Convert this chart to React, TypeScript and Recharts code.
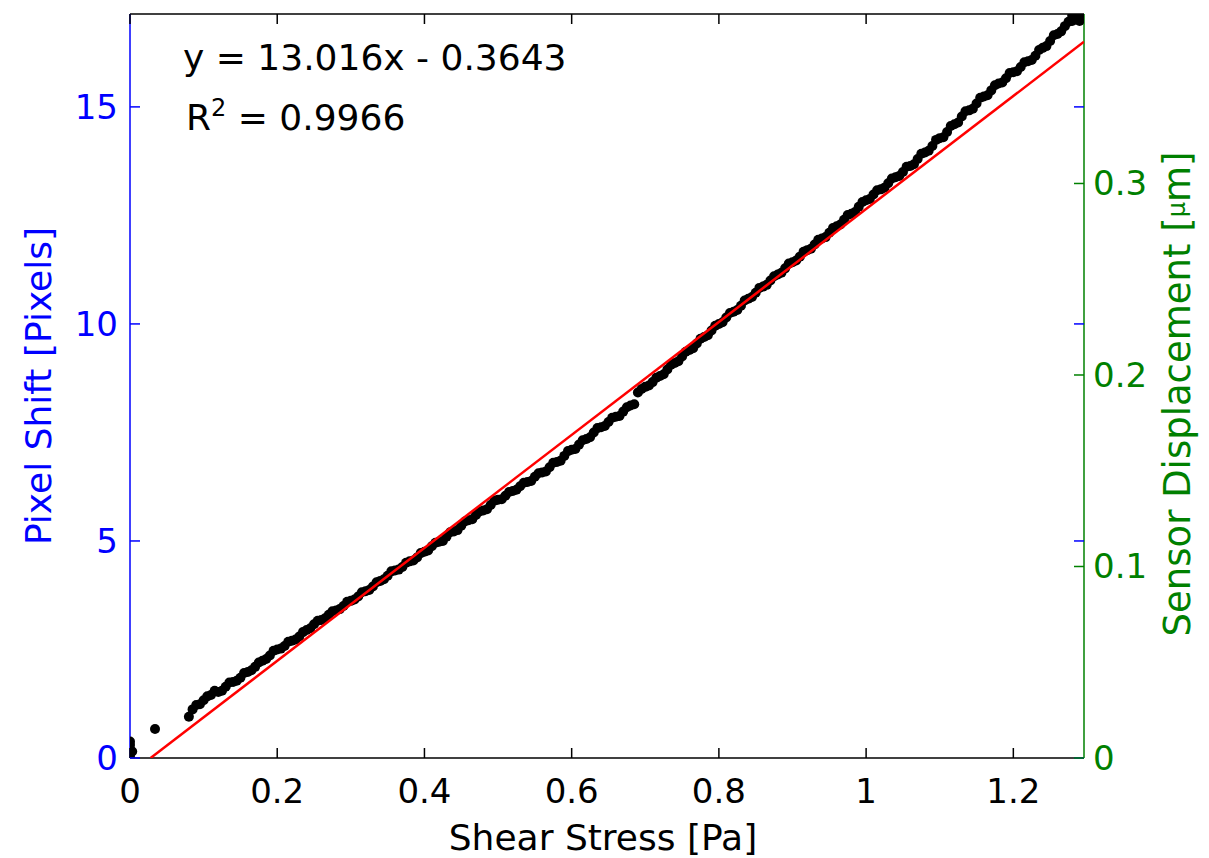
import {
	ComposedChart,
	Scatter,
	XAxis,
	YAxis,
	ReferenceLine,
	Label,
} from 'recharts'

// shear stress [Pa] vs pixel shift [px]
const STRESS = [
	0, 0, 0, 0, 0, 0.003, 0.034,
	0.08, 0.09, 0.1, 0.11, 0.12, 0.13, 0.14, 0.15, 0.16, 0.17, 0.18, 0.19,
	0.2, 0.21, 0.22, 0.23, 0.24, 0.25, 0.26, 0.27, 0.28, 0.29,
	0.3, 0.31, 0.32, 0.33, 0.34, 0.35, 0.36, 0.37, 0.38, 0.39,
	0.4, 0.41, 0.42, 0.43, 0.44, 0.45, 0.46, 0.47, 0.48, 0.49,
	0.5, 0.51, 0.52, 0.53, 0.54, 0.55, 0.56, 0.57, 0.58, 0.59,
	0.6, 0.61, 0.62, 0.63, 0.64, 0.65, 0.66, 0.67, 0.68, 0.69,
	0.7, 0.71, 0.72, 0.73, 0.74, 0.75, 0.76, 0.77, 0.78, 0.79,
	0.8, 0.81, 0.82, 0.83, 0.84, 0.85, 0.86, 0.87, 0.88, 0.89,
	0.9, 0.91, 0.92, 0.93, 0.94, 0.95, 0.96, 0.97, 0.98, 0.99,
	1.0, 1.01, 1.02, 1.03, 1.04, 1.05, 1.06, 1.07, 1.08, 1.09,
	1.1, 1.11, 1.12, 1.13, 1.14, 1.15, 1.16, 1.17, 1.18, 1.19,
	1.2, 1.21, 1.22, 1.23, 1.24, 1.25, 1.26, 1.27, 1.28, 1.29,
	1.28, 1.29,
]
const SHIFT = [
	0.02, 0.1, 0.2, 0.3, 0.38, 0.15, 0.67,
	0.95, 1.22, 1.33, 1.45, 1.52, 1.64, 1.75, 1.85, 1.98, 2.1, 2.24, 2.36,
	2.5, 2.58, 2.7, 2.8, 2.95, 3.08, 3.18, 3.3, 3.4, 3.5,
	3.62, 3.72, 3.84, 3.95, 4.08, 4.2, 4.32, 4.4, 4.53, 4.62,
	4.75, 4.88, 4.98, 5.1, 5.22, 5.35, 5.48, 5.6, 5.7, 5.83,
	5.95, 6.04, 6.15, 6.26, 6.36, 6.48, 6.58, 6.7, 6.82, 6.96,
	7.1, 7.22, 7.35, 7.5, 7.62, 7.74, 7.86, 7.98, 8.12, 8.42,
	8.55, 8.66, 8.8, 8.95, 9.1, 9.25, 9.4, 9.55, 9.7, 9.85,
	10.0, 10.15, 10.28, 10.42, 10.58, 10.72, 10.86, 11.0, 11.14, 11.28,
	11.42, 11.55, 11.7, 11.83, 11.97, 12.1, 12.25, 12.4, 12.54, 12.7,
	12.85, 12.98, 13.1, 13.24, 13.38, 13.5, 13.64, 13.8, 13.95, 14.1,
	14.28, 14.42, 14.6, 14.78, 14.92, 15.08, 15.24, 15.38, 15.54, 15.66,
	15.8, 15.92, 16.05, 16.18, 16.36, 16.52, 16.68, 16.86, 16.98, 17.1,
	17.1, 16.98,
]

// second pass of samples lying between the ones above
const STRESS_B = [
	0.085, 0.095, 0.105, 0.115, 0.125, 0.135, 0.145, 0.155, 0.165, 0.175, 0.185, 0.195,
	0.205, 0.215, 0.225, 0.235, 0.245, 0.255, 0.265, 0.275, 0.285, 0.295,
	0.305, 0.315, 0.325, 0.335, 0.345, 0.355, 0.365, 0.375, 0.385, 0.395,
	0.405, 0.415, 0.425, 0.435, 0.445, 0.455, 0.465, 0.475, 0.485, 0.495,
	0.505, 0.515, 0.525, 0.535, 0.545, 0.555, 0.565, 0.575, 0.585, 0.595,
	0.605, 0.615, 0.625, 0.635, 0.645, 0.655, 0.665, 0.675, 0.685, 0.695,
	0.705, 0.715, 0.725, 0.735, 0.745, 0.755, 0.765, 0.775, 0.785, 0.795,
	0.805, 0.815, 0.825, 0.835, 0.845, 0.855, 0.865, 0.875, 0.885, 0.895,
	0.905, 0.915, 0.925, 0.935, 0.945, 0.955, 0.965, 0.975, 0.985, 0.995,
	1.005, 1.015, 1.025, 1.035, 1.045, 1.055, 1.065, 1.075, 1.085, 1.095,
	1.105, 1.115, 1.125, 1.135, 1.145, 1.155, 1.165, 1.175, 1.185, 1.195,
	1.205, 1.215, 1.225, 1.235, 1.245, 1.255, 1.265, 1.275, 1.285,
]
const SHIFT_B = [
	1.12, 1.24, 1.42, 1.55, 1.55, 1.74, 1.78, 1.96, 2.02, 2.2, 2.28, 2.47,
	2.52, 2.68, 2.73, 2.9, 2.99, 3.16, 3.22, 3.38, 3.43, 3.6,
	3.65, 3.82, 3.87, 4.05, 4.12, 4.3, 4.34, 4.5, 4.55, 4.72,
	4.78, 4.96, 5.0, 5.2, 5.25, 5.45, 5.5, 5.68, 5.73, 5.93,
	5.96, 6.13, 6.18, 6.34, 6.38, 6.56, 6.6, 6.8, 6.85, 7.07,
	7.12, 7.32, 7.39, 7.6, 7.65, 7.84, 7.88, 8.08, 8.15, 8.5,
	8.58, 8.76, 8.84, 9.06, 9.14, 9.36, 9.44, 9.66, 9.74, 9.96,
	10.04, 10.25, 10.32, 10.54, 10.62, 10.83, 10.9, 11.1, 11.18, 11.39,
	11.46, 11.66, 11.73, 11.94, 12.0, 12.21, 12.29, 12.51, 12.58, 12.81,
	12.88, 13.08, 13.14, 13.35, 13.41, 13.62, 13.68, 13.92, 13.99, 14.24,
	14.3, 14.56, 14.64, 14.9, 14.96, 15.21, 15.27, 15.5, 15.56, 15.78,
	15.82, 16.03, 16.08, 16.31, 16.4, 16.65, 16.74, 16.96, 17.06,
]

// linear fit y = 13.016x - 0.3643, endpoints
const FIT_X = [0.028, 1.296]
const FIT_Y = [0.0, 16.5]

const X_TICKS = [0, 0.2, 0.4, 0.6, 0.8, 1, 1.2]
const LEFT_TICKS = [0, 5, 10, 15]
const RIGHT_TICKS = [0, 0.1, 0.2, 0.3]

const X_MAX = 1.296
const LEFT_MAX = 17.14
const RIGHT_MAX = 0.3885

const W = 1209
const H = 858
const PLOT_TOP = 14
const PLOT_LEFT = 130
const PLOT_RIGHT = 1084
const FONT = '"DejaVu Sans", sans-serif'
const BLUE = '#0000ff'
const GREEN = '#008000'

const points = [
	...STRESS.map((x, i) => ({ x, y: SHIFT[i] })),
	...STRESS_B.map((x, i) => ({ x, y: SHIFT_B[i] })),
]
const fit = FIT_X.map((x, i) => ({ x, y: FIT_Y[i] }))

function XTick({ x, y, payload }: any) {
	return (
		<g>
			<line x1={x} y1={y} x2={x} y2={y - 10} stroke='#000' strokeWidth={1.5} />
			<line x1={x} y1={PLOT_TOP} x2={x} y2={PLOT_TOP + 10} stroke='#000' strokeWidth={1.5} />
			<text x={x} y={y + 45} textAnchor='middle' fontSize={34} fontFamily={FONT} fill='#000'>
				{String(payload.value)}
			</text>
		</g>
	)
}

function LeftTick({ x, y, payload }: any) {
	return (
		<g>
			<line x1={x} y1={y} x2={x + 10} y2={y} stroke={BLUE} strokeWidth={1.5} />
			<line x1={PLOT_RIGHT - 10} y1={y} x2={PLOT_RIGHT} y2={y} stroke={BLUE} strokeWidth={1.5} />
			<text x={x - 12} y={y + 12} textAnchor='end' fontSize={34} fontFamily={FONT} fill={BLUE}>
				{String(payload.value)}
			</text>
		</g>
	)
}

function RightTick({ x, y, payload }: any) {
	return (
		<g>
			<line x1={x - 10} y1={y} x2={x} y2={y} stroke={GREEN} strokeWidth={1.5} />
			<text x={x + 9} y={y + 12} textAnchor='start' fontSize={34} fontFamily={FONT} fill={GREEN}>
				{String(payload.value)}
			</text>
		</g>
	)
}

const Dot = (p: any) => <circle cx={p.cx} cy={p.cy} r={5} fill='#000' />
const NoDot = () => <g />

export default function App() {
	return (
		<div
			style={{
				position: 'absolute',
				left: 0,
				top: 0,
				width: W,
				height: H,
				background: '#fff',
				fontFamily: FONT,
			}}
		>
			<ComposedChart
				width={W}
				height={H}
				margin={{ top: PLOT_TOP, right: 0, bottom: 0, left: 0 }}
			>
				<XAxis
					type='number'
					dataKey='x'
					domain={[0, X_MAX]}
					ticks={X_TICKS}
					allowDataOverflow
					height={100}
					tickSize={0}
					tickMargin={0}
					tick={<XTick />}
					axisLine={{ stroke: '#000', strokeWidth: 1.5 }}
				>
					<Label
						content={({ viewBox }: any) => (
							<text
								x={viewBox.x + viewBox.width / 2 - 4}
								y={viewBox.y + 92}
								textAnchor='middle'
								fontSize={36}
								fontFamily={FONT}
								fill='#000'
							>
								Shear Stress [Pa]
							</text>
						)}
					/>
				</XAxis>
				<YAxis
					yAxisId='left'
					type='number'
					dataKey='y'
					domain={[0, LEFT_MAX]}
					ticks={LEFT_TICKS}
					allowDataOverflow
					width={PLOT_LEFT}
					tickSize={0}
					tickMargin={0}
					tick={<LeftTick />}
					axisLine={{ stroke: BLUE, strokeWidth: 1.5 }}
				>
					<Label
						content={({ viewBox }: any) => (
							<text
								x={38}
								y={viewBox.y + viewBox.height / 2}
								transform={`rotate(-90 38 ${viewBox.y + viewBox.height / 2})`}
								textAnchor='middle'
								dominantBaseline='central'
								fontSize={36}
								fontFamily={FONT}
								fill={BLUE}
							>
								Pixel Shift [Pixels]
							</text>
						)}
					/>
				</YAxis>
				<YAxis
					yAxisId='right'
					orientation='right'
					type='number'
					domain={[0, RIGHT_MAX]}
					ticks={RIGHT_TICKS}
					allowDataOverflow
					width={W - PLOT_RIGHT}
					tickSize={0}
					tickMargin={0}
					tick={<RightTick />}
					axisLine={{ stroke: GREEN, strokeWidth: 1.5 }}
				>
					<Label
						content={({ viewBox }: any) => {
							const cx = viewBox.x + 93
							const cy = viewBox.y + viewBox.height / 2 + 8
							return (
								<text
									x={cx}
									y={cy}
									transform={`rotate(-90 ${cx} ${cy})`}
									textAnchor='middle'
									dominantBaseline='central'
									fontSize={37}
									fontFamily={FONT}
									fill={GREEN}
								>
									Sensor Displacement [<tspan fontSize={24}>μ</tspan>m]
								</text>
							)
						}}
					/>
				</YAxis>
				<ReferenceLine
					yAxisId='left'
					y={LEFT_MAX}
					stroke='#000'
					strokeWidth={1.5}
					ifOverflow='visible'
				/>
				<Scatter
					yAxisId='left'
					data={points}
					shape={Dot}
					isAnimationActive={false}
				/>
				<Scatter
					yAxisId='left'
					data={fit}
					shape={NoDot}
					line={{ stroke: '#ff0000', strokeWidth: 2.5 }}
					isAnimationActive={false}
				/>
			</ComposedChart>
			<div
				style={{
					position: 'absolute',
					left: 183,
					top: 40,
					fontSize: 36,
					lineHeight: '35px',
					color: '#000',
					whiteSpace: 'nowrap',
				}}
			>
				y = 13.016x - 0.3643
			</div>
			<div
				style={{
					position: 'absolute',
					left: 186,
					top: 100,
					fontSize: 36,
					lineHeight: '35px',
					color: '#000',
					whiteSpace: 'nowrap',
				}}
			>
				R
				<span style={{ fontSize: 24, position: 'relative', top: -14 }}>2</span>
				{' '}= 0.9966
			</div>
		</div>
	)
}
